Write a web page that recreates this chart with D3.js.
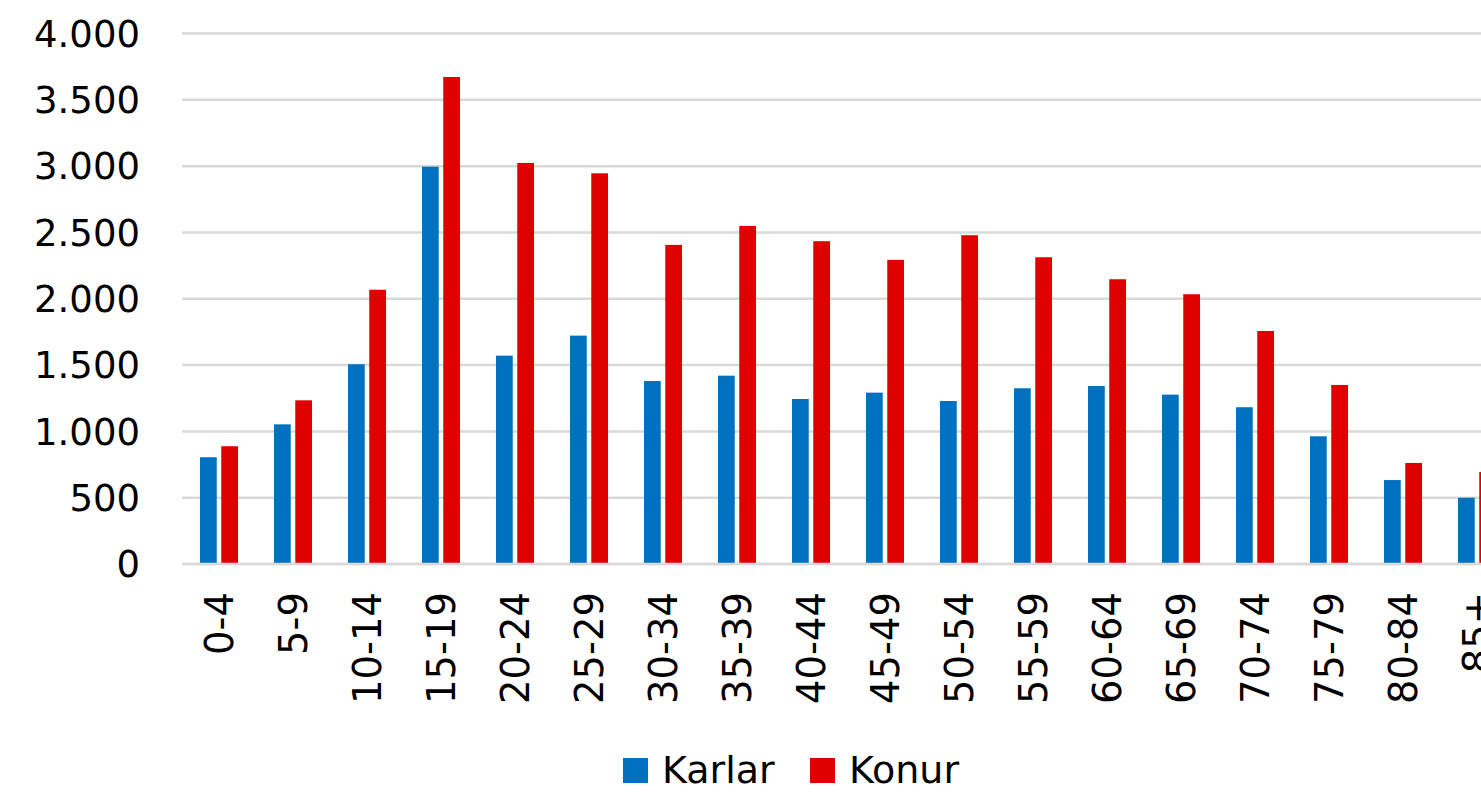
<!DOCTYPE html>
<html><head><meta charset="utf-8">
<script src="https://cdn.jsdelivr.net/npm/d3@7.9.0/dist/d3.min.js"></script>
<style>html,body{margin:0;padding:0;background:#fff;overflow:hidden}svg{display:block;font-family:"DejaVu Sans",sans-serif}</style>
</head><body><svg width="1481" height="793"></svg>
<script>
const ages=['0-4','5-9','10-14','15-19','20-24','25-29','30-34','35-39','40-44','45-49','50-54','55-59','60-64','65-69','70-74','75-79','80-84','85+'];
const karlar=[805,1053,1506,2996,1571,1722,1380,1420,1244,1292,1229,1325,1342,1277,1182,963,633,500];
const konur=[888,1234,2068,3672,3024,2946,2406,2549,2434,2293,2479,2313,2147,2034,1757,1350,762,694];
const series=['Karlar','Konur'];
const colors=['#0070c0','#e00000'];
const yTicks=[0,500,1000,1500,2000,2500,3000,3500,4000];

const svg=d3.select('svg');
const x0=d3.scaleBand().domain(ages).range([182,182+ages.length*74]).paddingInner(0.486).paddingOuter(0.243);
const x1=d3.scaleBand().domain(series).range([0,x0.bandwidth()]).paddingInner(0.212);
const y=d3.scaleLinear().domain([0,4000]).range([564,33.5]);
const fmt=d=>d3.format(',')(d).replace(/,/g,'.');

// grid
svg.append('g').selectAll('line').data(yTicks).join('line')
 .attr('x1',182).attr('x2',1481).attr('y1',d=>y(d)).attr('y2',d=>y(d))
 .attr('stroke','#d9d9d9').attr('stroke-width',2.5);

// y labels
svg.append('g').selectAll('text').data(yTicks).join('text')
 .attr('x',140).attr('y',d=>y(d)).attr('dy','0.36em').attr('text-anchor','end')
 .attr('font-size',37).attr('fill','#000').text(fmt);

// bars
const rows=ages.map((a,i)=>({age:a,vals:[karlar[i],konur[i]]}));
const g=svg.append('g').selectAll('g').data(rows).join('g').attr('transform',d=>`translate(${x0(d.age)},0)`);
g.selectAll('rect').data(d=>d.vals.map((v,j)=>({s:series[j],v,j}))).join('rect')
 .attr('x',d=>x1(d.s)).attr('width',x1.bandwidth())
 .attr('y',d=>y(d.v)).attr('height',d=>y(0)-y(d.v))
 .attr('fill',d=>colors[d.j]);

// baseline
svg.append('line').attr('x1',182).attr('x2',1481).attr('y1',y(0)).attr('y2',y(0))
 .attr('stroke','#d9d9d9').attr('stroke-width',2.5);

// x labels (85+ runs off the right edge, as in the original)
svg.append('g').selectAll('text').data(ages).join('text')
 .attr('transform',d=>`translate(${x0(d)+x0.bandwidth()/2},592) rotate(-90)`)
 .attr('dy','0.36em').attr('text-anchor','end').attr('font-size',38.5).attr('fill','#000').text(d=>d);

// legend
const lg=svg.append('g').selectAll('g').data(series).join('g')
 .attr('transform',(d,i)=>`translate(${i?810:623},758)`);
lg.append('rect').attr('width',25).attr('height',25).attr('fill',(d,i)=>colors[i]);
lg.append('text').attr('x',39).attr('y',25).attr('font-size',38).attr('fill','#000').text(d=>d);
</script></body></html>
